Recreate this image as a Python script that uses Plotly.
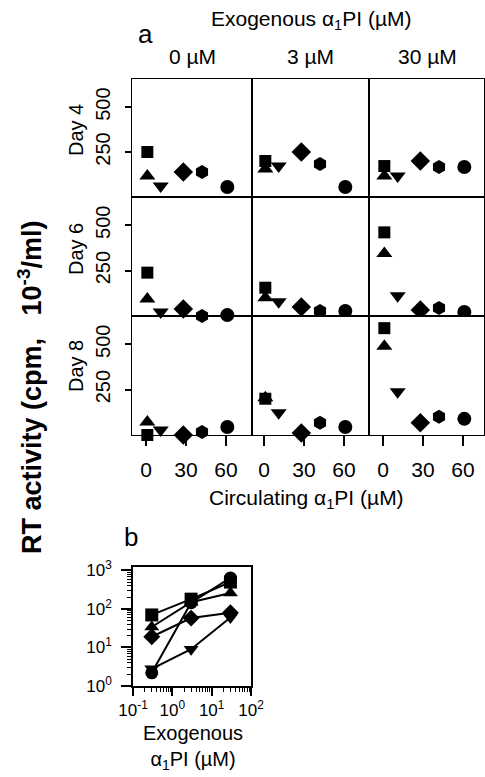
import plotly.graph_objects as go

# ---------------- data ----------------
symbols = ["square", "triangle-up", "triangle-down", "diamond", "hexagon", "circle"]
circulating_uM = [1, 1, 11, 28, 42, 61]          # circulating a1PI per donor (x)

exog_labels = ["0 µM", "3 µM", "30 µM"]
day_labels = ["Day 4", "Day 6", "Day 8"]

# RT activity (cpm x10^-3/ml) per donor [square, tri-up, tri-down, diamond, hexagon, circle]
day4_0 = [250, 117, 61, 139, 139, 56]
day4_3 = [200, 155, 172, 250, 183, 56]
day4_30 = [172, 117, 117, 200, 167, 167]
day6_0 = [239, 94, 22, 39, 0, 5]
day6_3 = [156, 100, 78, 50, 28, 28]
day6_30 = [461, 344, 111, 33, 44, 22]
day8_0 = [0, 72, 28, 0, 17, 44]
day8_3 = [200, 205, 122, 11, 67, 44]
day8_30 = [589, 489, 239, 67, 100, 89]
grid_values = [[day4_0, day4_3, day4_30],
               [day6_0, day6_3, day6_30],
               [day8_0, day8_3, day8_30]]

# panel b: exogenous a1PI (0 plotted at 0.3) vs RT activity
b_exog = [0.3, 3, 30]
b_square = [70, 180, 500]
b_triangle = [34, 150, 260]
b_diamond = [19, 58, 80]
b_circle = [2.2, 145, 640]
b_tridown = [2.8, 9, 60]
b_series = [("square", b_square), ("triangle-up", b_triangle), ("diamond", b_diamond),
            ("circle", b_circle), ("triangle-down", b_tridown)]

# ---------------- layout helpers ----------------
W, H = 485, 777
def fx(p): return p / W
def fy(p): return 1 - p / H

FONT = "Liberation Sans, Arial, sans-serif"
col_px = [(132, 252), (252, 369), (369, 484)]
row_px = [(79, 197), (197, 316), (316, 435)]
col_xrange = [[-10.5, 79.5], [-9, 78.75], [-10.5, 75.75]]
yrange = [0, 656]
marker_size = {"square": 12, "triangle-up": 14, "triangle-down": 14,
               "diamond": 15, "hexagon": 14, "circle": 14}

fig = go.Figure()
layout = {}
for r in range(3):
    for c in range(3):
        k = r * 3 + c + 1
        vals = grid_values[r][c]
        clip = not (r == 2 or (r == 1 and c == 0))
        for s, xv, yv in zip(symbols, circulating_uM, vals):
            fig.add_trace(go.Scatter(
                x=[xv], y=[yv], mode="markers", xaxis=f"x{k}", yaxis=f"y{k}",
                marker=dict(symbol=s, size=marker_size[s], color="black"),
                cliponaxis=clip, showlegend=False))
        xa = dict(domain=[fx(col_px[c][0]), fx(col_px[c][1])], range=col_xrange[c],
                  anchor=f"y{k}", showline=True, mirror=True, linecolor="black",
                  linewidth=1.3, showgrid=False, zeroline=False, automargin=False)
        ya = dict(domain=[fy(row_px[r][1]), fy(row_px[r][0])], range=yrange,
                  anchor=f"x{k}", showline=True, mirror=True, linecolor="black",
                  linewidth=1.3, showgrid=False, zeroline=False, automargin=False)
        if r == 2:
            xa.update(tickvals=[0, 30, 60], ticks="outside", ticklen=10, tickwidth=1.5,
                      tickcolor="black", ticklabelstandoff=6,
                      tickfont=dict(family=FONT, size=21, color="black"))
        else:
            xa.update(showticklabels=False, ticks="")
        if c == 0:
            ya.update(tickvals=[250, 500], ticks="outside", ticklen=6, tickwidth=1.5,
                      tickcolor="black", tickangle=-90, ticklabelstandoff=7,
                      tickfont=dict(family=FONT, size=20, color="black"))
        else:
            ya.update(showticklabels=False, ticks="")
        layout[f"xaxis{k}"] = xa
        layout[f"yaxis{k}"] = ya

# panel b
for s, vals in b_series:
    fig.add_trace(go.Scatter(
        x=b_exog, y=vals, mode="lines+markers", xaxis="x10", yaxis="y10",
        line=dict(color="black", width=2),
        marker=dict(symbol=s, size=13, color="black"),
        cliponaxis=False, showlegend=False))

minor_x = [m * 10 ** e for e in range(-1, 2) for m in range(2, 10)]
minor_y = [m * 10 ** e for e in range(0, 3) for m in range(2, 10)]
layout["xaxis10"] = dict(
    domain=[fx(133), fx(251)], type="log", range=[-1, 2], anchor="y10",
    showline=True, mirror=True, linecolor="black", linewidth=1.5, showgrid=False,
    zeroline=False, automargin=False, tickvals=[0.1, 1, 10, 100],
    ticktext=["10<sup>-1</sup>", "10<sup>0</sup>", "10<sup>1</sup>", "10<sup>2</sup>"],
    ticks="outside", ticklen=8, tickwidth=1.5, tickcolor="black",
    tickfont=dict(family=FONT, size=17, color="black"),
    minor=dict(tickvals=minor_x, ticks="outside", ticklen=4, tickcolor="black",
               tickwidth=1, showgrid=False))
layout["yaxis10"] = dict(
    domain=[fy(686), fy(567)], type="log", range=[0, 3.09], anchor="x10",
    showline=True, mirror=True, linecolor="black", linewidth=1.5, showgrid=False,
    zeroline=False, automargin=False, tickvals=[1, 10, 100, 1000],
    ticktext=["10<sup>0</sup>", "10<sup>1</sup>", "10<sup>2</sup>", "10<sup>3</sup>"],
    ticks="outside", ticklen=10, tickwidth=1.5, tickcolor="black", ticklabelstandoff=6,
    tickfont=dict(family=FONT, size=17, color="black"),
    minor=dict(tickvals=minor_y, ticks="outside", ticklen=4, tickcolor="black",
               tickwidth=1, showgrid=False))

def ann(text, x, y, size, angle=0, bold=False):
    return dict(text=f"<b>{text}</b>" if bold else text, x=fx(x), y=fy(y),
                xref="paper", yref="paper", showarrow=False, textangle=angle,
                xanchor="center", yanchor="middle",
                font=dict(family=FONT, size=size, color="black"))

annotations = [
    ann("Exogenous α<sub>1</sub>PI (µM)", 311, 20, 21),
    ann("a", 145, 34, 26),
    ann("Circulating α<sub>1</sub>PI (µM)", 306, 499, 21),
    ann("RT activity (cpm,   10<sup>-3</sup>/ml)", 30, 388, 27, angle=-90, bold=True),
    ann("b", 131, 537, 26),
    ann("Exogenous<br>α<sub>1</sub>PI (µM)", 193, 747, 20),
]
col_centers = [192, 310, 427]
for lbl, cx in zip(exog_labels, col_centers):
    annotations.append(ann(lbl, cx, 57, 21))
row_centers = [130, 249, 366]
for lbl, cy in zip(day_labels, row_centers):
    annotations.append(ann(lbl, 76, cy, 20, angle=-90))

fig.update_layout(
    width=W, height=H, margin=dict(l=0, r=0, t=0, b=0),
    paper_bgcolor="white", plot_bgcolor="white",
    font=dict(family=FONT, color="black"),
    annotations=annotations, **layout)

fig.write_html("out.html", config=dict(displayModeBar=False),
               post_script="document.body.style.margin='0';document.body.style.overflow='hidden';")
